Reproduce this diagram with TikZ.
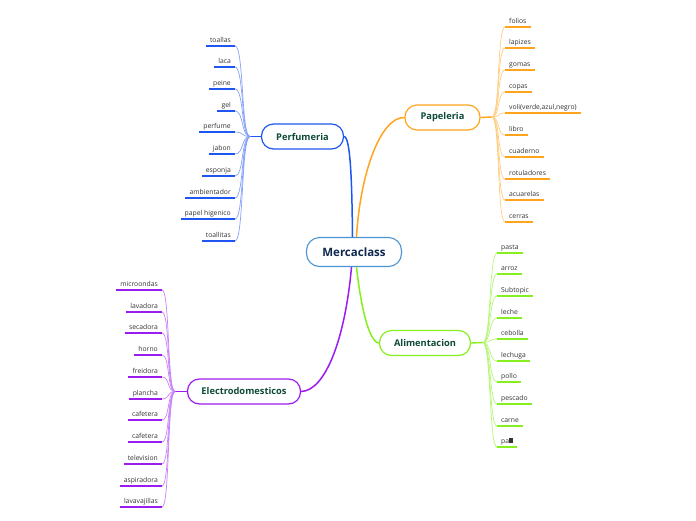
\documentclass[tikz,border=0pt]{standalone}
\usepackage{fontspec}
\setmainfont{Open Sans}
\usetikzlibrary{calc}
\definecolor{cblue}{HTML}{1F55F0}
\definecolor{corange}{HTML}{FFA41C}
\definecolor{cgreen}{HTML}{86F01E}
\definecolor{cpurple}{HTML}{9B1CF0}
\definecolor{cmid}{HTML}{4A94D4}
\definecolor{tgreen}{HTML}{0E4A3A}
\definecolor{tnavy}{HTML}{10284F}
\definecolor{tgray}{HTML}{333333}
\begin{document}
\begin{tikzpicture}[x=1pt,y=-1pt,
  branch/.style={draw, line width=1.2pt, rounded corners=12pt, fill=white,
    font=\bfseries\fontsize{9.3}{11}\selectfont, text=tgreen, inner sep=0pt, minimum height=25pt},
  leaf/.style={font=\fontsize{6.8}{8}\selectfont, text=tgray, inner xsep=4pt, inner ysep=2.2pt,
    text depth=1.6pt, text height=5.2pt},
  ul/.style={line width=2pt},
  lc/.style={line width=0.7pt},
  mainc/.style={line width=1.5pt},
]
\useasboundingbox (0,0) rectangle (696,520);

% central
\node[draw=cmid, line width=1.1pt, rounded corners=13pt, minimum width=95pt, minimum height=29pt,
  inner sep=0pt, fill=white, font=\bfseries\fontsize{11.5}{13}\selectfont, text=tnavy] (m) at (354,252) {Mercaclass};

% branches
\node[branch, draw=cblue, minimum width=82pt] (perf) at (302.5,136.5) {Perfumeria};
\node[branch, draw=corange, minimum width=75pt] (pap) at (442.5,117.5) {Papeleria};
\node[branch, draw=cgreen, minimum width=91pt] (ali) at (425,343) {Alimentacion};
\node[branch, draw=cpurple, minimum width=113pt] (ele) at (244,391.5) {Electrodomesticos};

\coordinate (mb) at ($(m.north)+(-1.5,0)$);
\coordinate (mo) at ($(m.north)+(2.5,0)$);
\coordinate (mg) at ($(m.south)+(2.5,0)$);
\coordinate (mp) at ($(m.south)+(-2.5,0)$);

\draw[mainc, cblue] (perf.east) .. controls (351,137) and (352,190) .. (mb);
\draw[mainc, corange] (mo) .. controls (360,175) and (380,117) .. (pap.west);
\draw[mainc, cgreen] (mg) .. controls (360,300) and (368,342) .. (ali.west);
\draw[mainc, cpurple] (mp) .. controls (345,340) and (325,391) .. (ele.east);

% hubs
\coordinate (hP) at (250,136.5);
\coordinate (hO) at (492,117);
\coordinate (hG) at (483,342.5);
\coordinate (hE) at (175,391.5);
\draw[line width=1.4pt, cblue] (hP) -- (perf.west);
\draw[line width=1.4pt, corange] (pap.east) -- (hO);
\draw[line width=1.4pt, cgreen] (ali.east) -- (hG);
\draw[line width=1.4pt, cpurple] (hE) -- (ele.west);

% Perfumeria leaves
\foreach \t [count=\i] in {toallas,laca,peine,gel,perfume,jabon,esponja,ambientador,papel higenico,toallitas}{
  \node[leaf, anchor=south east] (pl\i) at (235,{round(45.7+21.7*(\i-1))}) {\t};
  \draw[lc, cblue!55] (hP) .. controls +(-9,0) and +(9,0) .. (pl\i.south east);
  \draw[ul, cblue] (pl\i.south west) -- (pl\i.south east);
}

% Papeleria leaves
\foreach \t [count=\i] in {folios,lapizes,gomas,copas,{voli(verde,azul,negro)},libro,cuaderno,rotuladores,acuarelas,cerras}{
  \node[leaf, anchor=south west] (ol\i) at (505,{round(26.7+21.7*(\i-1))}) {\t};
  \draw[lc, corange!55] (hO) .. controls +(8,0) and +(-8,0) .. (ol\i.south west);
  \draw[ul, corange] (ol\i.south west) -- (ol\i.south east);
}

% Alimentacion leaves
\foreach \t [count=\i] in {pasta,arroz,Subtopic,leche,cebolla,lechuga,pollo,pescado,carne,pa\rule{3.6pt}{4.6pt}}{
  \node[leaf, anchor=south west] (gl\i) at (497,{round(252.7+21.6*(\i-1))}) {\t};
  \draw[lc, cgreen!60] (hG) .. controls +(8,0) and +(-8,0) .. (gl\i.south west);
  \draw[ul, cgreen] (gl\i.south west) -- (gl\i.south east);
}

% Electrodomesticos leaves
\foreach \t [count=\i] in {microondas,lavadora,secadora,horno,freidora,plancha,cafetera,cafetera,television,aspiradora,lavavajillas}{
  \node[leaf, anchor=south east] (el\i) at (162,{round(290+21.73*(\i-1))}) {\t};
  \draw[lc, cpurple!55] (hE) .. controls +(-8,0) and +(8,0) .. (el\i.south east);
  \draw[ul, cpurple] (el\i.south west) -- (el\i.south east);
}
\end{tikzpicture}
\end{document}
